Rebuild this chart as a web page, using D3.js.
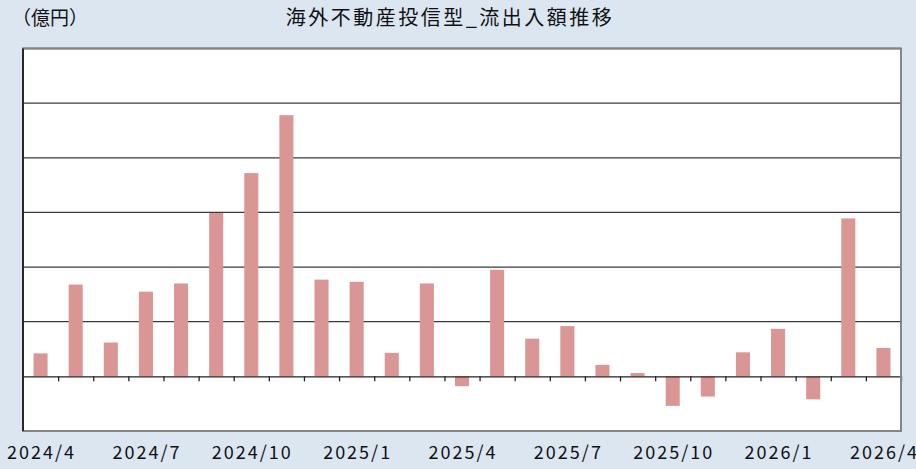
<!DOCTYPE html>
<html>
<head>
<meta charset="utf-8">
<script src="https://cdn.jsdelivr.net/npm/d3@7"></script>
<style>
    body {
        margin: 0;
        background: #dce6f1;
    }

    text {
        font-family: 'Noto Sans CJK JP', sans-serif;
        fill: #111;
    }

    .xLabels .domain,
    .xLabels line {
        display: none;
    }
</style>
</head>
<body>
<svg width="916" height="469"></svg>
<script>
    // months Apr 2024 .. Apr 2026
    var months = ["2024/4", "2024/5", "2024/6", "2024/7", "2024/8", "2024/9", "2024/10", "2024/11", "2024/12",
        "2025/1", "2025/2", "2025/3", "2025/4", "2025/5", "2025/6", "2025/7", "2025/8", "2025/9",
        "2025/10", "2025/11", "2025/12", "2026/1", "2026/2", "2026/3", "2026/4"];

    // net flows (one gridline = 100)
    var flows = [42, 168, 62, 155, 170, 299, 372, 478, 177,
        173, 43, 170, -18, 195, 69, 92, 21, 6,
        -54, -37, 44, 87, -42, 289, 52];

    var gridValues = [-100, 0, 100, 200, 300, 400, 500, 600];
    var tickLabels = months.filter(function (d, i) { return i % 3 === 0; });

    var svg = d3.select("svg"),
        margin = { top: 48.5, right: 15, bottom: 38, left: 23 },
        width = +svg.attr("width") - margin.left - margin.right,
        height = +svg.attr("height") - margin.top - margin.bottom,
        g = svg.append("g").attr("transform", "translate(" + margin.left + "," + margin.top + ")");

    var x = d3.scaleBand()
        .domain(months)
        .range([0, width])
        .paddingInner(0.6)
        .paddingOuter(0.3);

    // boundaries between months, for the little ticks on the zero line
    var xEdge = d3.scaleLinear().domain([0, months.length]).range([0, width]);

    var y = d3.scaleLinear()
        .domain([-100, 600])
        .range([height, 0]);

    g.append("rect")
        .attr("width", width)
        .attr("height", height)
        .attr("fill", "#fff");

    g.append("g")
        .selectAll("line")
        .data(gridValues.filter(function (d) { return d !== 0; }))
        .enter().append("line")
        .attr("x1", 0)
        .attr("x2", width)
        .attr("y1", function (d) { return y(d); })
        .attr("y2", function (d) { return y(d); })
        .attr("stroke", "#3a3a3a")
        .attr("stroke-width", 1.3);

    g.append("g")
        .selectAll("rect")
        .data(flows)
        .enter().append("rect")
        .attr("x", function (d, i) { return x(months[i]); })
        .attr("y", function (d) { return y(Math.max(0, d)); })
        .attr("width", x.bandwidth())
        .attr("height", function (d) { return Math.abs(y(d) - y(0)); })
        .attr("fill", "#da9694");

    var zeroAxis = g.append("g")
        .attr("transform", "translate(0," + y(0) + ")")
        .call(d3.axisBottom(xEdge)
            .tickValues(d3.range(1, months.length + 1))
            .tickSize(5)
            .tickSizeOuter(0)
            .tickFormat(""));
    zeroAxis.selectAll("path, line").attr("stroke", "#222").attr("stroke-width", 1.3);

    // frame
    g.append("rect")
        .attr("width", width)
        .attr("height", height)
        .attr("fill", "none")
        .attr("stroke", "#858585")
        .attr("stroke-width", 2);

    g.append("line")
        .attr("x1", 0).attr("x2", 0)
        .attr("y1", 0).attr("y2", height)
        .attr("stroke", "#111")
        .attr("stroke-width", 1.6);

    g.append("g")
        .attr("class", "xLabels")
        .attr("transform", "translate(0," + height + ")")
        .call(d3.axisBottom(x).tickValues(tickLabels).tickSize(0).tickPadding(15))
        .selectAll("text")
        .attr("font-size", 18)
        .attr("letter-spacing", 2)
        .attr("dx", 1)
        .attr("fill", "#111");

    svg.append("text")
        .attr("x", 12)
        .attr("y", 25)
        .attr("font-size", 19)
        .text("（億円）");

    svg.append("text")
        .attr("x", 450)
        .attr("y", 25)
        .attr("text-anchor", "middle")
        .attr("font-size", 20)
        .attr("letter-spacing", 2.5)
        .text("海外不動産投信型_流出入額推移");
</script>
</body>
</html>
